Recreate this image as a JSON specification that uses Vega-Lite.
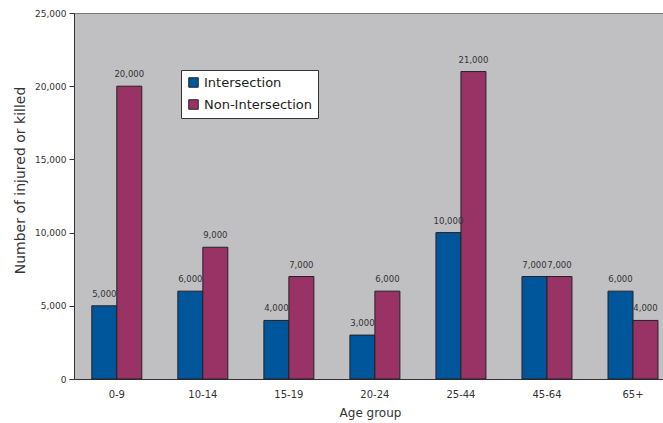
{
  "$schema": "https://vega.github.io/schema/vega-lite/v6.json",
  "width": 592,
  "height": 366,
  "padding": {"left": 13, "top": 9, "right": 0, "bottom": 3},
  "background": "white",
  "config": {
    "view": {"fill": "#c0c0c2", "stroke": "#7a7a7a", "strokeWidth": 1},
    "font": "DejaVu Sans",
    "axis": {"labelFont": "DejaVu Sans", "titleFont": "DejaVu Sans", "labelColor": "#333333", "titleColor": "#333333", "titleFontWeight": "normal", "domainColor": "#333333", "tickColor": "#333333", "grid": false}
  },
  "data": {
    "values": [
      {"age": "0-9", "type": "Intersection", "value": 5000},
      {"age": "0-9", "type": "Non-Intersection", "value": 20000},
      {"age": "10-14", "type": "Intersection", "value": 6000},
      {"age": "10-14", "type": "Non-Intersection", "value": 9000},
      {"age": "15-19", "type": "Intersection", "value": 4000},
      {"age": "15-19", "type": "Non-Intersection", "value": 7000},
      {"age": "20-24", "type": "Intersection", "value": 3000},
      {"age": "20-24", "type": "Non-Intersection", "value": 6000},
      {"age": "25-44", "type": "Intersection", "value": 10000},
      {"age": "25-44", "type": "Non-Intersection", "value": 21000},
      {"age": "45-64", "type": "Intersection", "value": 7000},
      {"age": "45-64", "type": "Non-Intersection", "value": 7000},
      {"age": "65+", "type": "Intersection", "value": 6000},
      {"age": "65+", "type": "Non-Intersection", "value": 4000}
    ]
  },
  "encoding": {
    "x": {
      "field": "age", "type": "nominal", "sort": null,
      "scale": {"paddingInner": 0.419, "paddingOuter": 0.15, "align": 0.69},
      "axis": {"title": "Age group", "labelAngle": 0, "labelFontSize": 10, "titleFontSize": 12, "titlePadding": 8, "labelPadding": 10, "ticks": false, "domainWidth": 1}
    },
    "xOffset": {"field": "type", "type": "nominal"},
    "y": {
      "field": "value", "type": "quantitative",
      "scale": {"domain": [0, 25000]},
      "axis": {"title": "Number of injured or killed", "values": [0, 5000, 10000, 15000, 20000, 25000], "labelExpr": "format(datum.value, ',')", "labelFontSize": 9, "titleFontSize": 14, "titlePadding": 7, "titleY": 167, "tickSize": 5, "labelPadding": 3}
    }
  },
  "layer": [
    {
      "mark": {"type": "bar", "stroke": "#222222", "strokeWidth": 1},
      "encoding": {
        "color": {
          "field": "type", "type": "nominal",
          "scale": {"domain": ["Intersection", "Non-Intersection"], "range": ["#00569a", "#993366"]},
          "legend": {
            "title": null, "orient": "none", "legendX": 107, "legendY": 57,
            "fillColor": "white", "strokeColor": "#333333", "padding": 6,
            "symbolType": "square", "symbolSize": 90, "symbolStrokeColor": "#222222", "symbolStrokeWidth": 1,
            "labelFontSize": 13, "labelColor": "#222222", "labelFont": "DejaVu Sans", "rowPadding": 7, "labelOffset": 4
          }
        }
      }
    },
    {
      "mark": {"type": "text", "dy": -12, "fontSize": 8.5, "color": "#333333"},
      "encoding": {
        "text": {"field": "value", "type": "quantitative", "format": ","}
      }
    }
  ]
}
